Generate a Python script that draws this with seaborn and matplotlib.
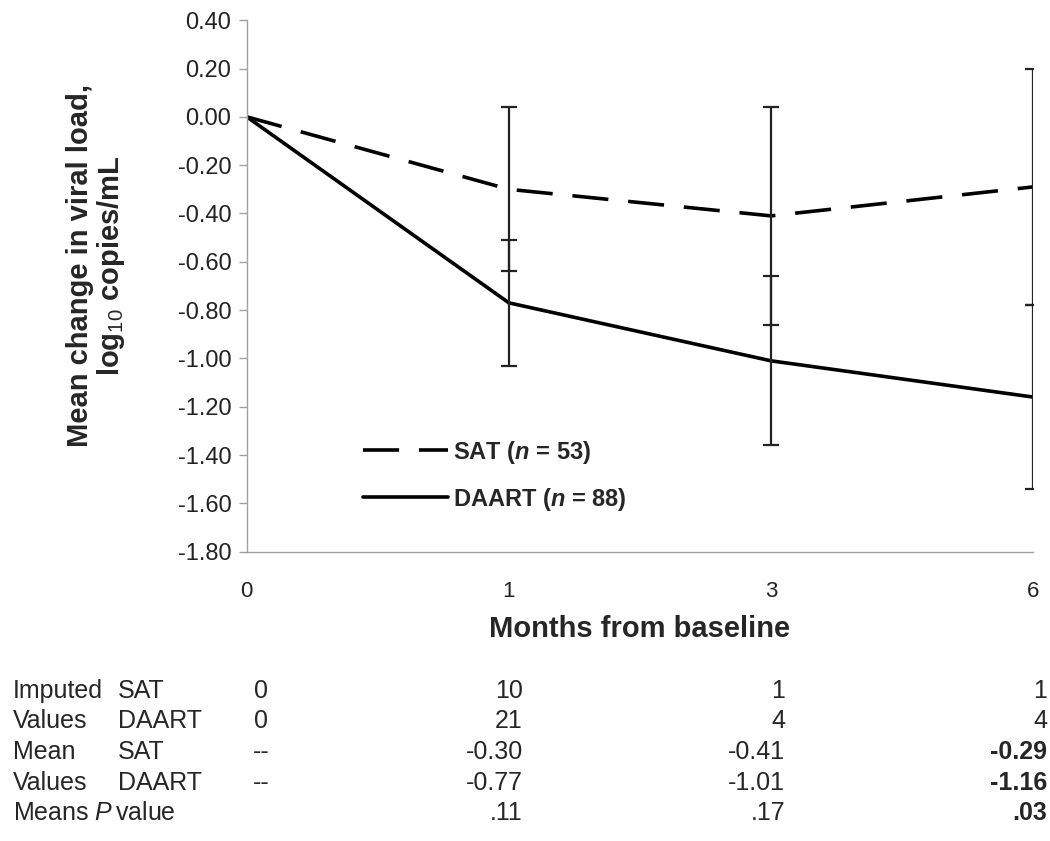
import numpy as np
import pandas as pd
import matplotlib
matplotlib.use("Agg")
import matplotlib.pyplot as plt
import matplotlib.transforms as mtransforms
from matplotlib.lines import Line2D
import seaborn as sns

# ---------------- data ----------------
months = ["0", "1", "3", "6"]
sat_mean = [0.00, -0.30, -0.41, -0.29]
daart_mean = [0.00, -0.77, -1.01, -1.16]
sat_err = [0.00, 0.34, 0.45, 0.49]
daart_err = [0.00, 0.26, 0.35, 0.38]

imputed_sat = ["0", "10", "1", "1"]
imputed_daart = ["0", "21", "4", "4"]
mean_sat_txt = ["--", "-0.30", "-0.41", "-0.29"]
mean_daart_txt = ["--", "-0.77", "-1.01", "-1.16"]
p_values = ["", ".11", ".17", ".03"]

sns.set_theme(style="white")
plt.rcParams["font.family"] = ["Liberation Sans", "DejaVu Sans"]
plt.rcParams["mathtext.fontset"] = "custom"
plt.rcParams["mathtext.rm"] = "Liberation Sans"
plt.rcParams["mathtext.it"] = "Liberation Sans:italic"
plt.rcParams["mathtext.bf"] = "Liberation Sans:bold"
plt.rcParams["mathtext.bfit"] = "Liberation Sans:italic:bold"

pos = np.arange(len(months))
df = pd.DataFrame({
    "pos": np.concatenate([pos, pos]),
    "mean": sat_mean + daart_mean,
    "group": ["SAT"] * len(months) + ["DAART"] * len(months),
})

fig = plt.figure(figsize=(10.5, 8.41), dpi=100)
ax = fig.add_axes([0.235, 0.344, 0.749, 0.632])

lw = 2.6
sns.lineplot(data=df, x="pos", y="mean", style="group",
             dashes={"SAT": (10, 5.5), "DAART": ""},
             color="black", linewidth=lw, legend=False, ax=ax)

# error bars (skip baseline)
for m, e in [(sat_mean, sat_err), (daart_mean, daart_err)]:
    ax.errorbar(pos[1:], m[1:], yerr=e[1:], fmt="none",
                ecolor="#222222", elinewidth=1.6, capsize=6, capthick=1.6)

ax.set_xlim(0, 3)
ax.set_ylim(-1.80, 0.40)
yt = np.round(np.arange(-1.8, 0.41, 0.2), 2)
ax.set_yticks(yt)
ax.set_yticklabels([f"{v:.2f}".replace("-0.00", "0.00") for v in yt])
ax.set_xticks(pos)
ax.set_xticklabels(months)

for s in ["top", "right"]:
    ax.spines[s].set_visible(False)
for s in ["left", "bottom"]:
    ax.spines[s].set_color("#a0a0a0")
    ax.spines[s].set_linewidth(1.0)

ax.tick_params(axis="y", left=True, length=6, width=1, color="#a0a0a0",
               labelsize=17, pad=5, labelcolor="#222222")
ax.tick_params(axis="x", bottom=False, length=0, labelsize=16, pad=21,
               labelcolor="#222222")

ax.set_xlabel("Months from baseline", fontsize=21, fontweight="bold")
ax.xaxis.set_label_coords(0.5, -0.12)
ax.set_ylabel("Mean change in viral load,\nlog$_{10}$ copies/mL",
              fontsize=21, fontweight="bold", linespacing=1.05)
ax.yaxis.set_label_coords(-0.152, 0.538)

handles = [
    Line2D([], [], color="black", lw=lw, linestyle=(0, (10, 5.5))),
    Line2D([], [], color="black", lw=lw),
]
ax.legend(handles, ["SAT ($\\mathbfit{n}$ = 53)", "DAART ($\\mathbfit{n}$ = 88)"],
          loc="center left", bbox_to_anchor=(0.148, 0.143), frameon=False,
          borderpad=0, borderaxespad=0,
          handlelength=3.6, handletextpad=0.2, labelspacing=0.85,
          prop={"size": 17, "weight": "bold"})

# ---------------- table below ----------------
row_y = [691, 721, 752, 783, 813]
rows = [
    ("Imputed", "SAT", imputed_sat),
    ("Values", "DAART", imputed_daart),
    ("Mean", "SAT", mean_sat_txt),
    ("Values", "DAART", mean_daart_txt),
]
blend = mtransforms.blended_transform_factory(ax.transData, fig.transFigure)
right_tr = mtransforms.offset_copy(blend, fig=fig, x=14, y=0, units="dots")
fs = 18

for (lab1, lab2, vals), yp in zip(rows, row_y[:4]):
    yf = 1 - yp / 841
    fig.text(13 / 1050, yf, lab1, fontsize=fs, va="center", ha="left")
    fig.text(118 / 1050, yf, lab2, fontsize=fs, va="center", ha="left")
    fig.text(0, yf, vals[0], fontsize=fs, va="center", ha="center",
             transform=right_tr)
    for i in range(1, len(months)):
        bold = (i == len(months) - 1) and vals[0] == "--"
        fig.text(pos[i], yf, vals[i], fontsize=fs, va="center", ha="right",
                 transform=right_tr, fontweight="bold" if bold else "normal")

yf = 1 - row_y[4] / 841
fig.text(13 / 1050, yf, "$\\mathrm{Means}\\ \\mathit{P}\\,\\mathrm{value}$",
         fontsize=fs, va="center", ha="left")
for i in range(1, len(months)):
    fig.text(pos[i], yf, p_values[i], fontsize=fs, va="center", ha="right",
             transform=right_tr,
             fontweight="bold" if i == len(months) - 1 else "normal")

fig.savefig("out.png", dpi=100)
